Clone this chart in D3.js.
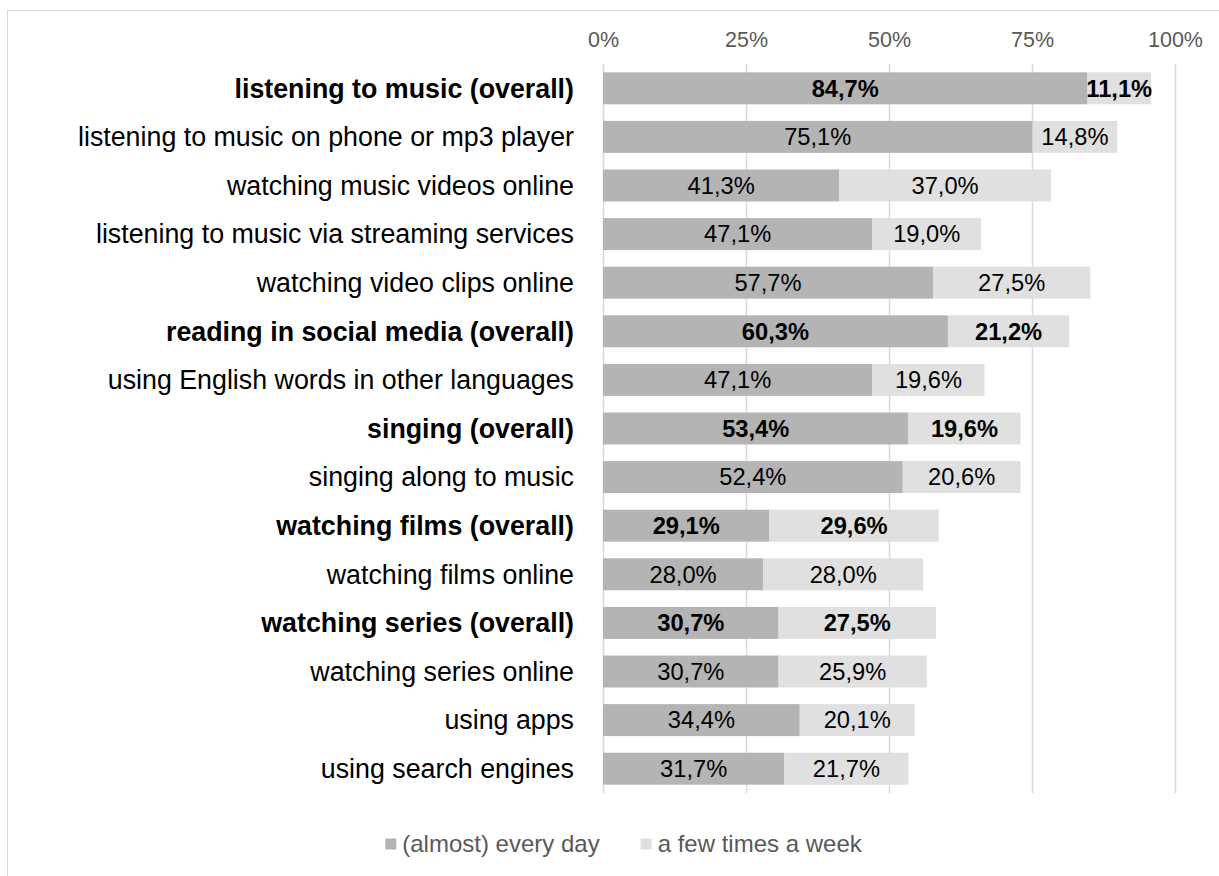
<!DOCTYPE html>
<html>
<head>
<meta charset="utf-8">
<script src="https://cdn.jsdelivr.net/npm/d3@7"></script>
<style>
  html, body { margin: 0; padding: 0; background: #fff; }
  svg { display: block; font-family: "Liberation Sans", Arial, sans-serif; }
</style>
</head>
<body>
<svg id="chart" width="1219" height="876"></svg>
<script>
// Activities, in display order (top to bottom)
const categories = [
  "listening to music (overall)",
  "listening to music on phone or mp3 player",
  "watching music videos online",
  "listening to music via streaming services",
  "watching video clips online",
  "reading in social media (overall)",
  "using English words in other languages",
  "singing (overall)",
  "singing along to music",
  "watching films (overall)",
  "watching films online",
  "watching series (overall)",
  "watching series online",
  "using apps",
  "using search engines"
];
// Summary rows drawn in bold
const overallRows = [
  "listening to music (overall)",
  "reading in social media (overall)",
  "singing (overall)",
  "watching films (overall)",
  "watching series (overall)"
];
// Share of respondents, percent
const everyDay = [84.7, 75.1, 41.3, 47.1, 57.7, 60.3, 47.1, 53.4, 52.4, 29.1, 28.0, 30.7, 30.7, 34.4, 31.7];
const fewTimesWeek = [11.1, 14.8, 37.0, 19.0, 27.5, 21.2, 19.6, 19.6, 20.6, 29.6, 28.0, 27.5, 25.9, 20.1, 21.7];
const seriesNames = ["(almost) every day", "a few times a week"];
const tickValues = [0, 25, 50, 75, 100];

const colors = ["#b4b4b4", "#e0e0e0"];

const svg = d3.select("#chart");

// outer frame
svg.append("rect")
  .attr("x", 7.5).attr("y", 10.5)
  .attr("width", 1400).attr("height", 1000)
  .attr("fill", "#fff").attr("stroke", "#d9d9d9").attr("stroke-width", 1);

const x = d3.scaleLinear().domain([0, 100]).range([603, 1175]);
const y = d3.scaleBand().domain(categories).range([64, 793])
  .paddingInner(0.342).paddingOuter(0.171);

const locale = d3.formatLocale({ decimal: ",", thousands: ".", grouping: [3], currency: ["", "€"] });
const fmt = locale.format(".1f");

// gridlines + tick labels
const xAxis = d3.axisTop(x).tickValues(tickValues).tickSize(-(793 - 64)).tickFormat(d => d + "%");
const gx = svg.append("g").attr("transform", "translate(0,64)").call(xAxis);
gx.select(".domain").remove();
gx.selectAll(".tick line").attr("stroke", "#d9d9d9").attr("stroke-width", 1.5);
gx.selectAll(".tick text")
  .attr("y", -17)
  .attr("fill", "#595959")
  .style("font-size", "21.5px")
  .style("font-family", "'Liberation Sans', Arial, sans-serif");

const rows = categories.map((c, i) => ({
  cat: c,
  bold: overallRows.includes(c),
  segs: [
    { s: 0, v: everyDay[i], x0: 0, x1: everyDay[i] },
    { s: 1, v: fewTimesWeek[i], x0: everyDay[i], x1: everyDay[i] + fewTimesWeek[i] }
  ]
}));

const rowG = svg.append("g").selectAll("g").data(rows).join("g")
  .attr("transform", d => `translate(0,${y(d.cat)})`);

rowG.selectAll("rect").data(d => d.segs).join("rect")
  .attr("x", d => x(d.x0))
  .attr("y", 0)
  .attr("width", d => x(d.x1) - x(d.x0))
  .attr("height", y.bandwidth())
  .attr("fill", d => colors[d.s]);

rowG.each(function (r) {
  d3.select(this).selectAll("text.val").data(r.segs).join("text")
    .attr("class", "val")
    .attr("x", d => (x(d.x0) + x(d.x1)) / 2)
    .attr("y", y.bandwidth() / 2)
    .attr("dy", "0.35em")
    .attr("text-anchor", "middle")
    .attr("fill", "#000")
    .style("font-size", "23.7px")
    .style("font-weight", r.bold ? "bold" : "normal")
    .text(d => fmt(d.v) + "%");
});

// category labels
rowG.append("text")
  .attr("x", 574)
  .attr("y", y.bandwidth() / 2)
  .attr("dy", "0.35em")
  .attr("text-anchor", "end")
  .attr("fill", "#000")
  .style("font-size", "26.8px")
  .style("font-weight", d => d.bold ? "bold" : "normal")
  .text(d => d.cat);

// legend
const legend = svg.append("g").attr("transform", "translate(0,844)");
const items = legend.selectAll("g").data(seriesNames).join("g");
items.append("rect")
  .attr("width", 11).attr("height", 11).attr("y", -5.5)
  .attr("fill", (d, i) => colors[i]);
items.append("text")
  .attr("x", 17).attr("dy", "0.35em")
  .attr("fill", "#595959")
  .style("font-size", "24px")
  .text(d => d);
const widths = [];
items.each(function () { widths.push(this.getBBox().width); });
const gap = 41;
const total = d3.sum(widths) + gap * (widths.length - 1);
let cursor = 624 - total / 2;
items.attr("transform", (d, i) => {
  const t = `translate(${cursor},0)`;
  cursor += widths[i] + gap;
  return t;
});
</script>
</body>
</html>
